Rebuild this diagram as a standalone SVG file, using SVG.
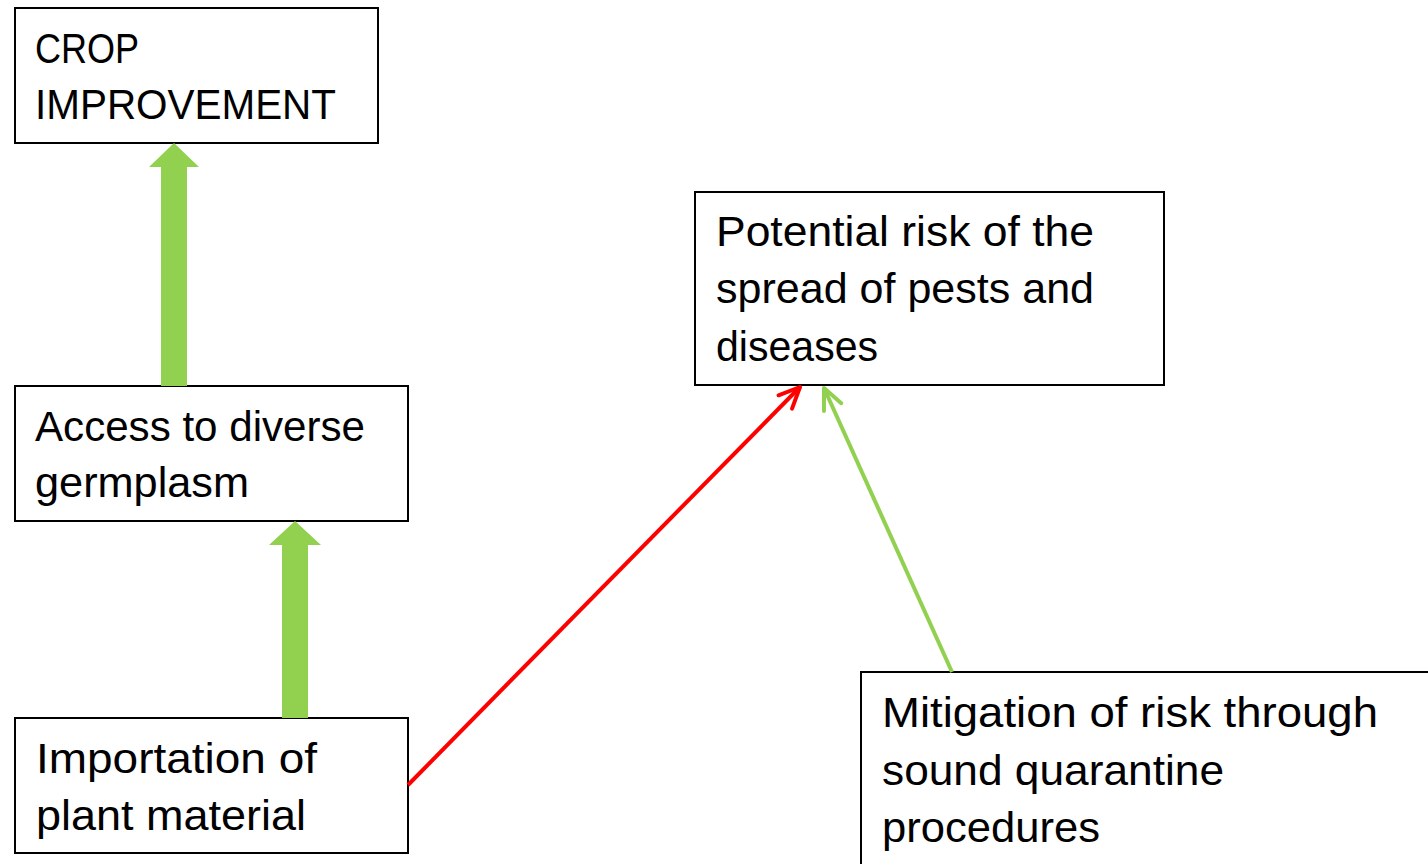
<svg xmlns="http://www.w3.org/2000/svg" width="1428" height="864" viewBox="0 0 1428 864">
<style>
.box{fill:#fff;stroke:#000;stroke-width:2}
.t{font-family:"Liberation Sans",Arial,sans-serif;font-size:42px;fill:#000}
.fat{fill:#92D050;stroke:none}
</style>
<defs>
<marker id="headRed" markerUnits="userSpaceOnUse" orient="auto" refX="0" refY="0" markerWidth="30" markerHeight="30" overflow="visible">
<path d="M-21,-9.5 L0,0 L-21,9.5" fill="none" stroke="#FF0000" stroke-width="4" stroke-linecap="round" stroke-linejoin="round"/>
</marker>
<marker id="headGreen" markerUnits="userSpaceOnUse" orient="auto" refX="0" refY="0" markerWidth="30" markerHeight="30" overflow="visible">
<path d="M-21,-9.5 L0,0 L-21,9.5" fill="none" stroke="#92D050" stroke-width="4" stroke-linecap="round" stroke-linejoin="round"/>
</marker>
</defs>
<rect width="1428" height="864" fill="#fff"/>
<g id="crop">
<rect class="box" x="15" y="8" width="363" height="135"/>
<text class="t" x="35" y="63" textLength="104" lengthAdjust="spacingAndGlyphs">CROP</text>
<text class="t" x="35" y="119" textLength="301" lengthAdjust="spacingAndGlyphs">IMPROVEMENT</text>
</g>
<g id="access">
<rect class="box" x="15" y="386" width="393" height="135"/>
<text class="t" x="35" y="441" textLength="330" lengthAdjust="spacingAndGlyphs">Access to diverse</text>
<text class="t" x="35" y="497" textLength="214" lengthAdjust="spacingAndGlyphs">germplasm</text>
</g>
<g id="importation">
<rect class="box" x="15" y="718" width="393" height="135"/>
<text class="t" x="36" y="773" textLength="281" lengthAdjust="spacingAndGlyphs">Importation of</text>
<text class="t" x="36" y="830" textLength="270" lengthAdjust="spacingAndGlyphs">plant material</text>
</g>
<g id="risk">
<rect class="box" x="695" y="192" width="469" height="193"/>
<text class="t" x="716" y="246" textLength="378" lengthAdjust="spacingAndGlyphs">Potential risk of the</text>
<text class="t" x="716" y="303" textLength="378" lengthAdjust="spacingAndGlyphs">spread of pests and</text>
<text class="t" x="716" y="361" textLength="162" lengthAdjust="spacingAndGlyphs">diseases</text>
</g>
<g id="mitigation">
<rect class="box" x="861" y="672" width="620" height="260"/>
<text class="t" x="882" y="727" textLength="496" lengthAdjust="spacingAndGlyphs">Mitigation of risk through</text>
<text class="t" x="882" y="785" textLength="342" lengthAdjust="spacingAndGlyphs">sound quarantine</text>
<text class="t" x="882" y="842" textLength="218" lengthAdjust="spacingAndGlyphs">procedures</text>
</g>
<g id="connectors">
<polygon class="fat" points="161,386 161,167 149,167 174,143 199,167 187,167 187,386"/>
<polygon class="fat" points="282,718 282,545 269,545 295,521 321,545 308,545 308,718"/>
<line x1="408" y1="785" x2="800" y2="387" stroke="#FF0000" stroke-width="4" marker-end="url(#headRed)"/>
<line x1="952" y1="672" x2="824" y2="388" stroke="#92D050" stroke-width="4" marker-end="url(#headGreen)"/>
</g>
</svg>
